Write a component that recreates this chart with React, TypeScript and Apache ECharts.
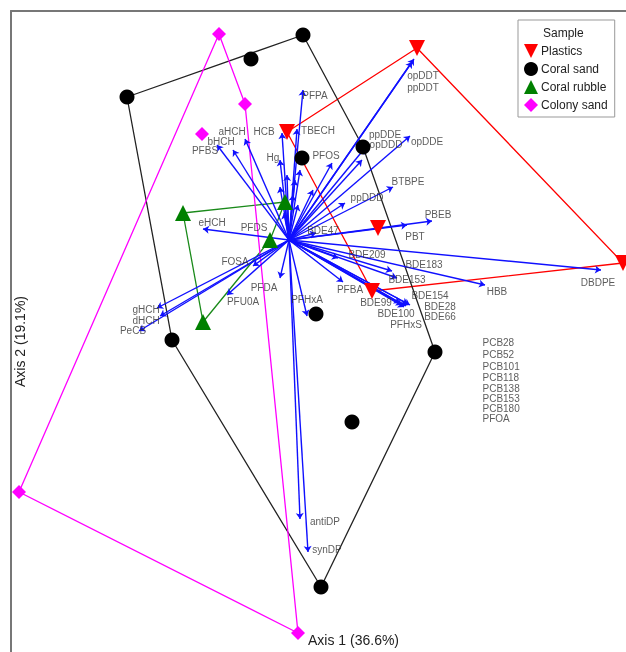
import React, { useEffect, useRef } from "react";
import * as echarts from "echarts";

// ---- sample scores (Axis 1, Axis 2) ----
const plastics: [number, number][] = [
  [-0.02, 1.08], [1.28, 1.92], [3.34, -0.23], [0.89, 0.12], [0.83, -0.51],
];
const coralSand: [number, number][] = [
  [-0.38, 1.81], [0.14, 2.05], [-1.62, 1.43], [0.13, 0.82], [0.74, 0.93],
  [0.27, -0.74], [-1.17, -1.0], [1.46, -1.12], [0.63, -1.82], [0.32, -3.47],
];
const coralRubble: [number, number][] = [
  [-1.06, 0.27], [-0.04, 0.38], [-0.19, 0.0], [-0.86, -0.82],
];
const colonySand: [number, number][] = [
  [-0.7, 2.06], [-0.44, 1.36], [-0.87, 1.06], [-2.7, -2.52], [0.09, -3.93],
];

// ---- variable loadings ----
const varNames = [
  "PFPA", "HCB", "TBECH", "aHCH", "bHCH", "PFBS", "Hg", "PFOS", "opDDT", "ppDDT",
  "ppDDE", "opDDD", "opDDE", "BTBPE", "ppDDD", "PBEB", "PBT", "BDE47", "BDE209", "BDE183",
  "BDE153", "DBDPE", "HBB", "PFBA", "BDE154", "BDE28", "BDE66", "BDE99", "BDE100", "PFHxS",
  "PFHxA", "PFDA", "FOSA", "PFU0A", "PFDS", "eHCH", "gHCH", "dHCH", "PeCB", "antiDP", "synDP",
];
const varX = [
  0.14, -0.07, 0.08, -0.44, -0.56, -0.72, -0.09, 0.43, 1.25, 1.23,
  0.76, 0.73, 1.21, 1.04, 0.56, 1.43, 1.18, 0.27, 0.49, 1.03,
  1.08, 3.12, 1.96, 0.54, 1.21, 1.19, 1.17, 1.11, 1.15, 1.13,
  0.18, -0.09, -0.36, -0.62, -0.05, -0.86, -1.32, -1.29, -1.5, 0.11, 0.19,
];
const varY = [
  1.5, 1.07, 1.11, 1.01, 0.9, 0.95, 0.8, 0.77, 1.81, 1.78,
  0.92, 0.8, 1.04, 0.53, 0.37, 0.19, 0.15, 0.07, -0.18, -0.31,
  -0.38, -0.3, -0.45, -0.42, -0.65, -0.64, -0.66, -0.63, -0.67, -0.65,
  -0.76, -0.38, -0.26, -0.55, 0.27, 0.11, -0.68, -0.76, -0.91, -2.79, -3.12,
];
// label anchor positions for each variable
const labelX = [
  0.26, -0.25, 0.29, -0.57, -0.68, -0.84, -0.16, 0.37, 1.34, 1.34,
  0.96, 0.97, 1.38, 1.19, 0.78, 1.49, 1.26, 0.34, 0.78, 1.35,
  1.18, 3.09, 2.08, 0.61, 1.41, 1.51, 1.51, 0.87, 1.07, 1.17,
  0.18, -0.25, -0.54, -0.46, -0.35, -0.77, -1.43, -1.43, -1.56, 0.36, 0.38,
];
const labelY = [
  1.45, 1.09, 1.1, 1.09, 0.99, 0.9, 0.83, 0.85, 1.65, 1.53,
  1.06, 0.96, 0.99, 0.59, 0.43, 0.26, 0.04, 0.1, -0.14, -0.24,
  -0.39, -0.42, -0.51, -0.49, -0.55, -0.66, -0.76, -0.62, -0.73, -0.84,
  -0.59, -0.47, -0.21, -0.61, 0.13, 0.18, -0.69, -0.8, -0.9, -2.81, -3.09,
];

// short vectors near the origin, labelled in a separate list
const shortNames = ["PCB28", "PCB52", "PCB101", "PCB118", "PCB138", "PCB153", "PCB180", "PFOA"];
const shortX = [-0.09, 0.06, 0.24, 0.09, -0.02, 0.11, 0.04, -0.05];
const shortY = [0.53, 0.6, 0.5, 0.35, 0.65, 0.7, 0.45, 0.4];
const listX = 1.93;
const listY = [-1.02, -1.14, -1.26, -1.37, -1.48, -1.58, -1.68, -1.78];

const xMin = -2.78, xMax = 3.37, yMin = -4.12, yMax = 2.29;

function hull(pts: [number, number][]): [number, number][] {
  const p = pts.slice().sort((a, b) => a[0] - b[0] || a[1] - b[1]);
  const cross = (o: number[], a: number[], b: number[]) =>
    (a[0] - o[0]) * (b[1] - o[1]) - (a[1] - o[1]) * (b[0] - o[0]);
  const lower: [number, number][] = [];
  for (const q of p) {
    while (lower.length >= 2 && cross(lower[lower.length - 2], lower[lower.length - 1], q) <= 0) lower.pop();
    lower.push(q);
  }
  const upper: [number, number][] = [];
  for (let i = p.length - 1; i >= 0; i--) {
    const q = p[i];
    while (upper.length >= 2 && cross(upper[upper.length - 2], upper[upper.length - 1], q) <= 0) upper.pop();
    upper.push(q);
  }
  upper.pop();
  lower.pop();
  const h = lower.concat(upper);
  h.push(h[0]);
  return h;
}

const groups = [
  { name: "Plastics", data: plastics, color: "#ff0000", symbol: "triangle", rotate: 180, size: 16, icon: "path://M0,0L10,0L5,10Z" },
  { name: "Coral sand", data: coralSand, color: "#000000", symbol: "circle", rotate: 0, size: 15, icon: "circle" },
  { name: "Coral rubble", data: coralRubble, color: "#008000", symbol: "triangle", rotate: 0, size: 16, icon: "triangle" },
  { name: "Colony sand", data: colonySand, color: "#ff00ff", symbol: "diamond", rotate: 0, size: 14, icon: "diamond" },
];
const hullColors: Record<string, string> = {
  "Plastics": "#ff0000", "Coral sand": "#222222", "Coral rubble": "#1a8a1a", "Colony sand": "#ff00ff",
};

const labelFont = "Liberation Sans, Arial, sans-serif";

export default function App() {
  const ref = useRef<HTMLDivElement>(null);
  useEffect(() => {
    if (!ref.current) return;
    const chart = echarts.init(ref.current, undefined, { renderer: "svg" });
    const series: any[] = [];
    groups.forEach((g) => {
      series.push({
        type: "line",
        name: g.name + " hull",
        data: hull(g.data),
        symbol: "none",
        lineStyle: { color: hullColors[g.name], width: 1.3 },
        z: 1,
      });
    });
    const arrows = varNames.map((n, i) => ({ coords: [[0, 0], [varX[i], varY[i]]] }))
      .concat(shortNames.map((n, i) => ({ coords: [[0, 0], [shortX[i], shortY[i]]] })));
    series.push({
      type: "lines",
      coordinateSystem: "cartesian2d",
      data: arrows,
      symbol: ["none", "arrow"],
      symbolSize: 6,
      lineStyle: { color: "#1010ff", width: 1.4, opacity: 1 },
      z: 2,
    });
    series.push({
      type: "scatter",
      name: "labels",
      data: varNames.map((n, i) => [labelX[i], labelY[i], n]),
      symbolSize: 1,
      itemStyle: { color: "transparent" },
      label: {
        show: true,
        position: "inside",
        formatter: (p: any) => p.data[2],
        color: "#333",
        fontSize: 10,
        fontFamily: labelFont,
      },
      z: 4,
    });
    series.push({
      type: "scatter",
      name: "list",
      data: shortNames.map((n, i) => [listX, listY[i], n]),
      symbolSize: 1,
      itemStyle: { color: "transparent" },
      label: {
        show: true,
        position: "right",
        distance: 0,
        formatter: (p: any) => p.data[2],
        color: "#333",
        fontSize: 10,
        fontFamily: labelFont,
      },
      z: 4,
    });
    groups.forEach((g) => {
      series.push({
        type: "scatter",
        name: g.name,
        data: g.data,
        symbol: g.symbol,
        symbolRotate: g.rotate,
        symbolSize: g.size,
        itemStyle: { color: g.color, opacity: 1 },
        z: 5,
      });
    });

    chart.setOption({
      animation: false,
      grid: { left: 11, top: 11, right: 0, bottom: 0 },
      xAxis: {
        type: "value", min: xMin, max: xMax, position: "top",
        axisLine: { show: true, onZero: false, lineStyle: { color: "#777", width: 2 } },
        axisTick: { show: false }, axisLabel: { show: false }, splitLine: { show: false },
      },
      yAxis: {
        type: "value", min: yMin, max: yMax, position: "left",
        axisLine: { show: true, onZero: false, lineStyle: { color: "#777", width: 2 } },
        axisTick: { show: false }, axisLabel: { show: false }, splitLine: { show: false },
      },
      legend: {
        orient: "vertical",
        left: 518,
        top: 20,
        padding: [24, 7, 5, 6],
        itemGap: 4,
        itemWidth: 14,
        itemHeight: 14,
        borderColor: "#999",
        borderWidth: 1,
        backgroundColor: "#fff",
        textStyle: { fontSize: 12, color: "#222", fontFamily: labelFont, padding: [0, 0, 0, -2] },
        data: groups.map((g) => ({ name: g.name, icon: g.icon })),
        selectedMode: false,
      },
      graphic: [
        {
          type: "text", left: 543, top: 27, z: 100,
          style: { text: "Sample", fill: "#222", font: "12px Liberation Sans, Arial, sans-serif" },
        },
        {
          type: "text", left: 308, top: 633,
          style: { text: "Axis 1 (36.6%)", font: "14px Liberation Sans, Arial, sans-serif", fill: "#222" },
        },
        {
          type: "text", left: 13, top: 296, rotation: Math.PI / 2,
          style: { text: "Axis 2 (19.1%)", font: "14px Liberation Sans, Arial, sans-serif", fill: "#222" },
        },
      ],
      series,
    });
    return () => chart.dispose();
  }, []);
  return <div ref={ref} style={{ position: "fixed", left: 0, top: 0, width: 626, height: 652 }} />;
}
